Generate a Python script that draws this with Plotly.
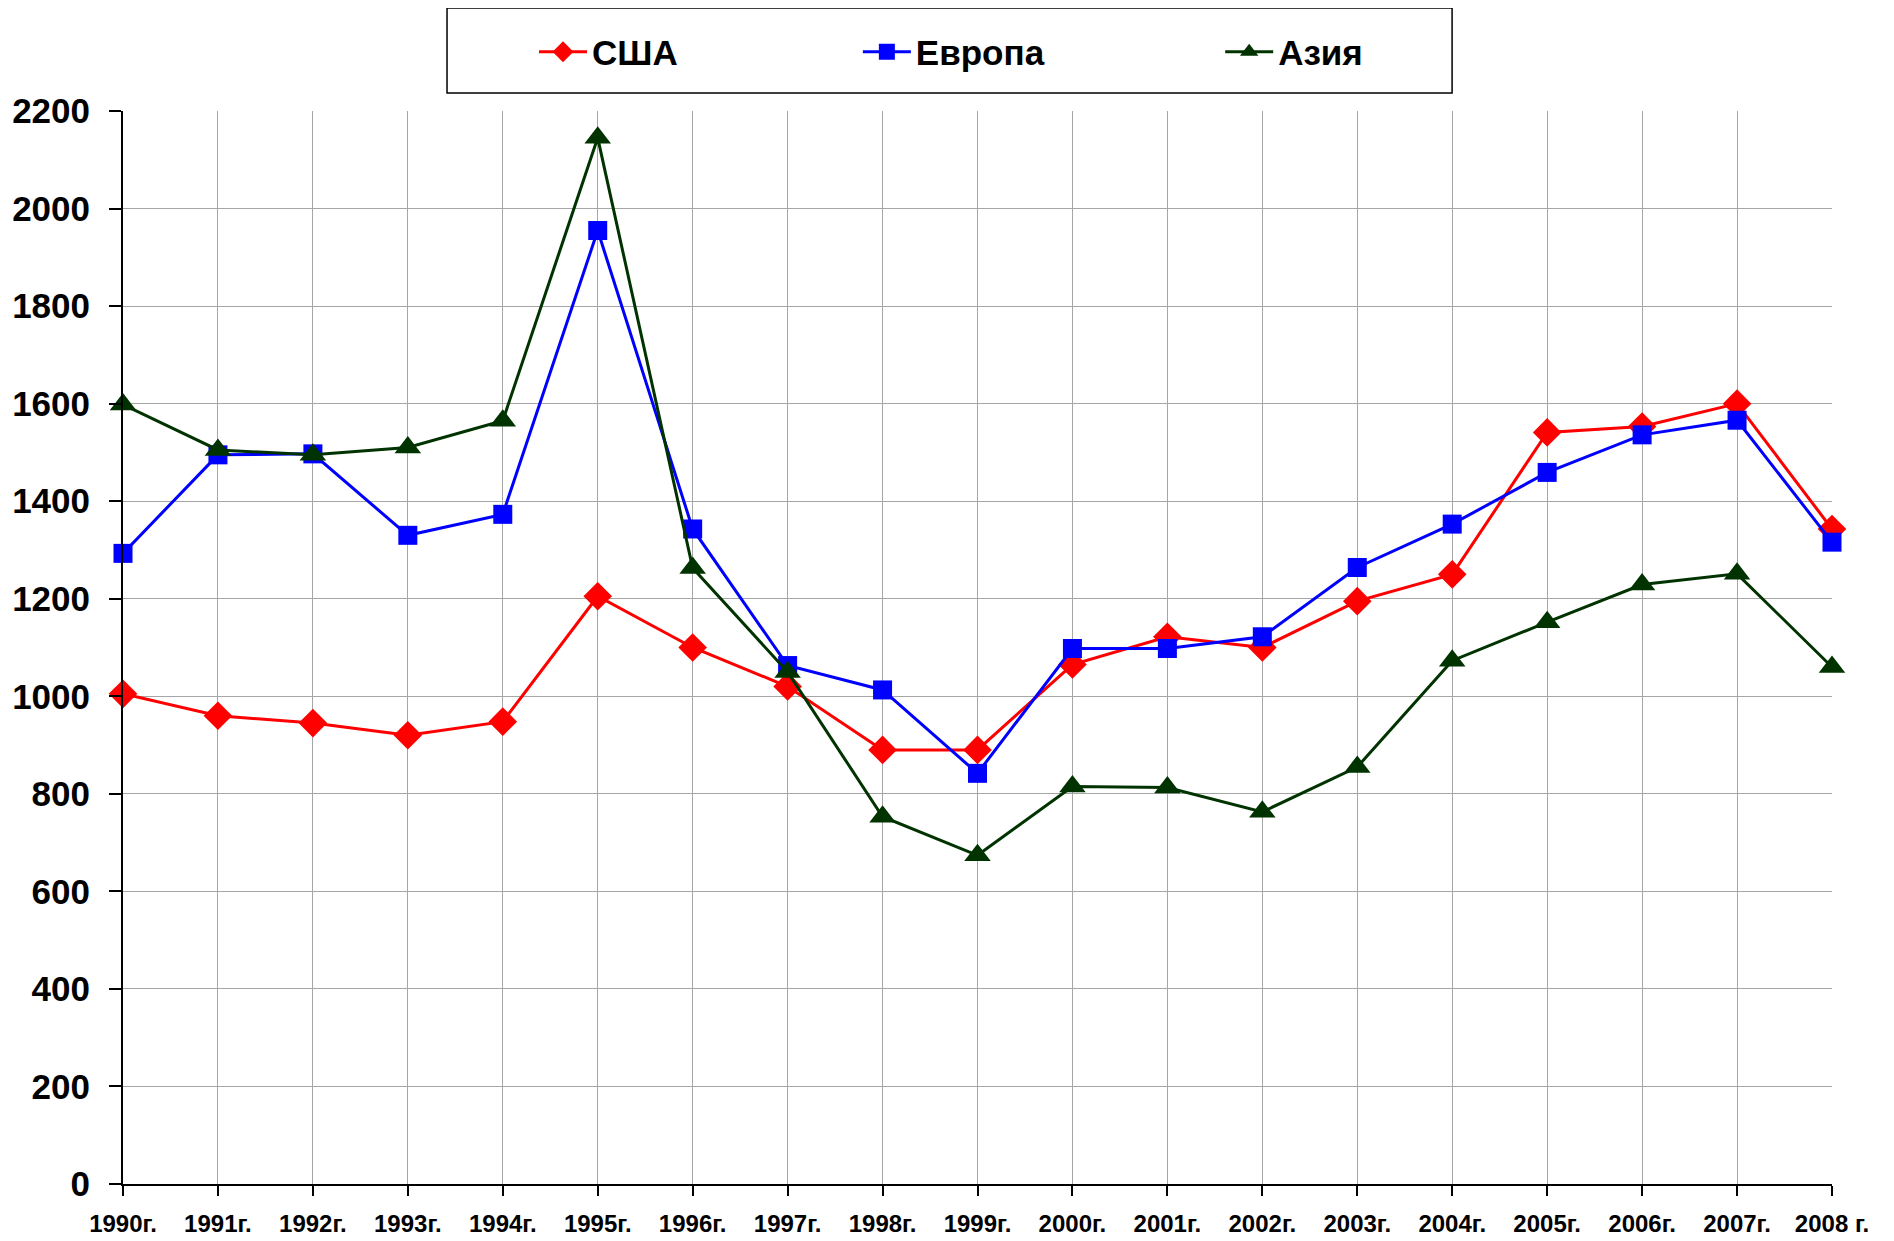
import plotly.graph_objects as go

years = ["1990г.", "1991г.", "1992г.", "1993г.", "1994г.", "1995г.", "1996г.", "1997г.", "1998г.", "1999г.",
         "2000г.", "2001г.", "2002г.", "2003г.", "2004г.", "2005г.", "2006г.", "2007г.", "2008 г."]
usa = [1005, 960, 945, 920, 948, 1205, 1100, 1020, 890, 890, 1065, 1122, 1100, 1195, 1250, 1541, 1553, 1600, 1343]
europe = [1293, 1495, 1497, 1330, 1373, 1955, 1343, 1063, 1013, 842, 1098, 1098, 1122, 1264, 1353, 1459, 1536, 1566, 1316]
asia = [1598, 1505, 1495, 1510, 1565, 2145, 1263, 1050, 753, 674, 815, 813, 763, 855, 1073, 1152, 1229, 1251, 1060]
y_ticks = [0, 200, 400, 600, 800, 1000, 1200, 1400, 1600, 1800, 2000, 2200]

xs = list(range(len(years)))
font = "Liberation Sans, Arial, sans-serif"

fig = go.Figure()
fig.add_trace(go.Scatter(x=xs, y=usa, name="США", mode="lines+markers", legend="legend",
                         line=dict(color="#ff0000", width=3),
                         marker=dict(symbol="diamond", size=22, color="#ff0000"), cliponaxis=False))
fig.add_trace(go.Scatter(x=xs, y=europe, name="Европа", mode="lines+markers", legend="legend2",
                         line=dict(color="#0000ff", width=3),
                         marker=dict(symbol="square", size=19, color="#0000ff"), cliponaxis=False))
fig.add_trace(go.Scatter(x=xs, y=asia, name="Азия", mode="lines+markers", legend="legend3",
                         line=dict(color="#003300", width=3),
                         marker=dict(symbol="triangle-up", size=23, color="#003300"), cliponaxis=False))

# legend frame
fig.add_shape(type="rect", xref="paper", yref="paper",
              x0=0.1896, x1=0.7777, y0=1.0168, y1=1.096,
              line=dict(color="black", width=1.5), fillcolor="white", layer="below")

leg_common = dict(orientation="h", xanchor="left", y=1.055, yanchor="middle",
                  bgcolor="rgba(0,0,0,0)", borderwidth=0,
                  font=dict(size=35, family=font, weight="bold"), itemwidth=48)

fig.update_layout(
    width=1894, height=1241,
    paper_bgcolor="white", plot_bgcolor="white",
    margin=dict(l=115, r=70, t=103, b=65),
    font=dict(family=font, color="black"),
    showlegend=True,
    legend=dict(x=0.2405, **leg_common),
    legend2=dict(x=0.430, **leg_common),
    legend3=dict(x=0.642, **leg_common),
    xaxis=dict(range=[0, len(years) - 1], tickvals=xs, ticktext=years,
               showgrid=True, gridcolor="#a6a6a6", gridwidth=1,
               showline=True, linecolor="black", linewidth=2,
               ticks="outside", ticklen=10, tickcolor="black", tickwidth=2,
               ticklabelstandoff=7, automargin=False,
               tickfont=dict(size=24, family=font, weight="bold"), zeroline=False),
    yaxis=dict(range=[0, 2200], tickvals=y_ticks,
               showgrid=True, gridcolor="#a6a6a6", gridwidth=1,
               showline=True, linecolor="black", linewidth=2,
               ticks="outside", ticklen=12, tickcolor="black", tickwidth=2,
               ticklabelstandoff=12, automargin=False,
               tickfont=dict(size=35, family=font, weight="bold"), zeroline=False),
)

fig.write_html("out.html")
